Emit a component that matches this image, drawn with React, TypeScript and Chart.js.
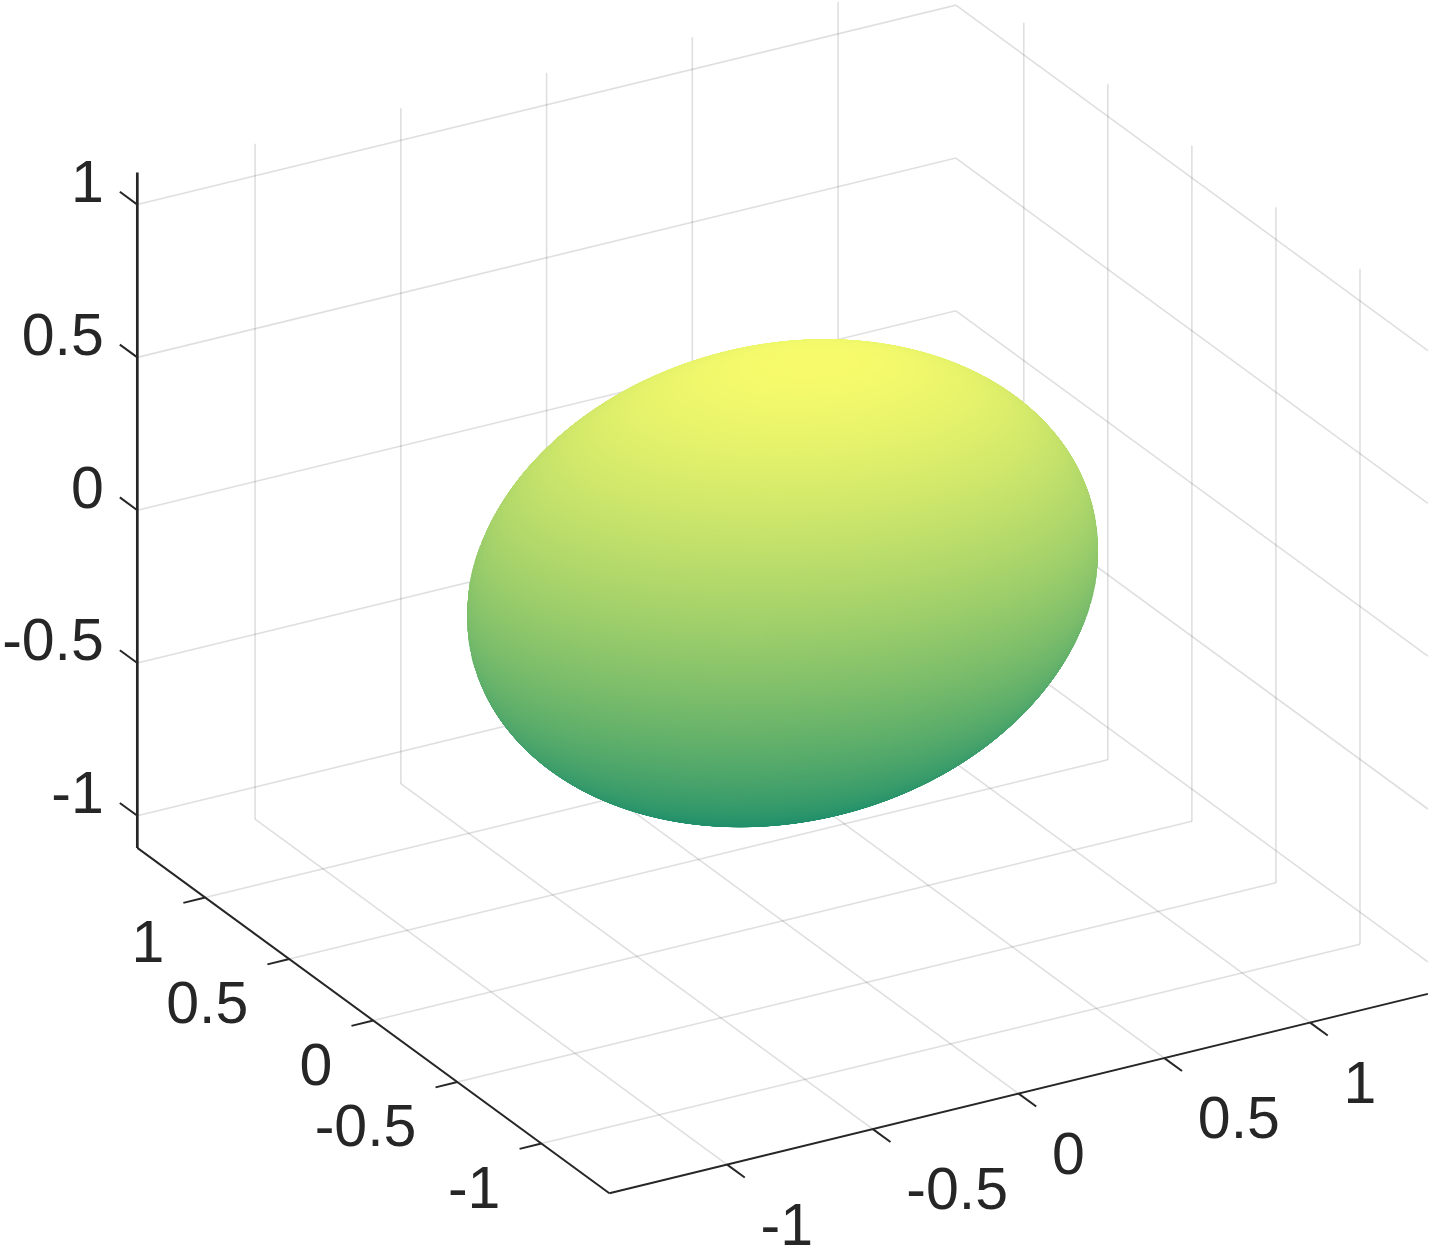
import React, { useEffect, useRef } from "react";
import { Chart, registerables } from "chart.js";

Chart.register(...registerables);

const xTicks = [-1, -0.5, 0, 0.5, 1];
const yTicks = [-1, -0.5, 0, 0.5, 1];
const zTicks = [-1, -0.5, 0, 0.5, 1];
const xTickLabels = ["-1", "-0.5", "0", "0.5", "1"];
const yTickLabels = ["-1", "-0.5", "0", "0.5", "1"];
const zTickLabels = ["-1", "-0.5", "0", "0.5", "1"];
const xLimits = [-1.404, 1.404];
const yLimits = [-1.404, 1.404];
const zLimits = [-1.105, 1.105];
const semiAxes = [1, 0.7071, 0.7071];
// tilt of the ellipsoid along the line of sight, in z per silhouette half-width / half-height
const tilt = [0.06, 0.08];
const colormapLow = [0, 0.5, 0.42];
const colormapHigh = [1, 1, 0.42];
const colorRange = [0.07, 0.97];
const SLICES = 460;
const SEGMENTS = 160;

// orthographic view of the 3D axes onto the page
const ORIGIN = [782.6, 583.2];
const XV = [291.5, -71];
const YV = [-168.1, -123];
const ZV = [0, -305.6];
const SIGHT = [-1.075, -1.864, 1];
const project = (x: number, y: number, z: number) => ({
  x: ORIGIN[0] + x * XV[0] + y * YV[0] + z * ZV[0],
  y: ORIGIN[1] + x * XV[1] + y * YV[1] + z * ZV[1],
});

const GRID = "rgba(38,38,38,0.15)";
const INK = "#262626";

const line = (pts: number[][], color: string, width: number, order: number) => ({
  type: "line" as const,
  data: pts.map((p) => project(p[0], p[1], p[2])),
  borderColor: color,
  borderWidth: width,
  pointRadius: 0,
  fill: false,
  tension: 0,
  order,
  borderCapStyle: "butt" as const,
});

const dot = (p: number[], q: number[]) => p[0] * q[0] + p[1] * q[1] + p[2] * q[2];
const cross = (p: number[], q: number[]) => [
  p[1] * q[2] - p[2] * q[1],
  p[2] * q[0] - p[0] * q[2],
  p[0] * q[1] - p[1] * q[0],
];
const unit = (p: number[]) => {
  const n = Math.sqrt(dot(p, p));
  return p.map((v) => v / n);
};

function ellipsoidSlices() {
  const out: any[] = [];
  const [a, b, c] = semiAxes;
  const D = [a, b, c];
  const rowX = [XV[0], YV[0], ZV[0]];
  const rowY = [-XV[1], -YV[1], -ZV[1]];
  const g = rowX.map((v, k) => (tilt[0] * v) / 315 + (tilt[1] * rowY[k]) / 242.6);
  const W = [g[0] * D[0], g[1] * D[1], (1 + g[2]) * D[2]];
  const w = unit(W);
  const e1 = unit(cross(w, [0, 1, 0]));
  const e2 = cross(w, e1);
  for (let i = 0; i <= SLICES; i++) {
    const f = i / SLICES;
    const s = -1 + 2 * f;
    const r = Math.sqrt(Math.max(0, 1 - s * s));
    const t = colorRange[0] + (colorRange[1] - colorRange[0]) * f;
    const col = colormapLow.map((l, k) => Math.round(255 * (l + (colormapHigh[k] - l) * t)));
    const css = `rgb(${col[0]},${col[1]},${col[2]})`;
    const pts: { x: number; y: number }[] = [];
    for (let n = 0; n <= SEGMENTS; n++) {
      const th = (2 * Math.PI * n) / SEGMENTS;
      const u = [0, 1, 2].map((k) => s * w[k] + r * (Math.cos(th) * e1[k] + Math.sin(th) * e2[k]));
      const p = [u[0] * D[0], u[1] * D[1], u[2] * D[2]];
      const shear = dot(g, p);
      pts.push(project(p[0] + SIGHT[0] * shear, p[1] + SIGHT[1] * shear, p[2] + SIGHT[2] * shear));
    }
    out.push({
      type: "line",
      data: pts,
      borderColor: css,
      backgroundColor: css,
      borderWidth: 1,
      pointRadius: 0,
      tension: 0,
      fill: "shape",
      order: 50000 - i,
    });
  }
  return out;
}

function buildDatasets() {
  const ds: any[] = [];
  const [x0, x1] = xLimits;
  const [y0, y1] = yLimits;
  const [z0, z1] = zLimits;
  const G = 100000;
  xTicks.forEach((t) => {
    ds.push(line([[t, y1, z0], [t, y1, z1]], GRID, 1.6, G));
    ds.push(line([[t, y0, z0], [t, y1, z0]], GRID, 1.6, G));
  });
  yTicks.forEach((t) => {
    ds.push(line([[x1, t, z0], [x1, t, z1]], GRID, 1.6, G));
    ds.push(line([[x0, t, z0], [x1, t, z0]], GRID, 1.6, G));
  });
  zTicks.forEach((t) => {
    ds.push(line([[x0, y1, t], [x1, y1, t], [x1, y0, t]], GRID, 1.6, G));
  });

  ds.push(...ellipsoidSlices());

  // axes and tick marks
  ds.push(line([[x0, y1, z0], [x0, y1, z1]], INK, 2.7, 3));
  ds.push(line([[x0, y1, z0], [x0, y0, z0]], INK, 2, 3));
  ds.push(line([[x0, y0, z0], [x1, y0, z0]], INK, 2, 3));
  zTicks.forEach((t) => {
    ds.push(line([[x0, y1, t], [x0, y1 + 0.104, t]], INK, 2, 2));
  });
  xTicks.forEach((t) => {
    ds.push(line([[t, y0, z0], [t, y0 - 0.105, z0]], INK, 2, 2));
  });
  yTicks.forEach((t) => {
    ds.push(line([[x0, t, z0], [x0 - 0.075, t, z0]], INK, 2, 2));
  });
  return ds;
}

const tickText = {
  id: "tickText",
  afterDatasetsDraw(chart: any) {
    const { ctx, scales } = chart;
    const px = (p: { x: number; y: number }) => [scales.x.getPixelForValue(p.x), scales.y.getPixelForValue(p.y)];
    ctx.save();
    ctx.font = '59px "Liberation Sans", Arial, sans-serif';
    ctx.fillStyle = INK;
    ctx.textBaseline = "alphabetic";
    zTicks.forEach((t, i) => {
      const [u, v] = px(project(xLimits[0], yLimits[1], t));
      ctx.textAlign = "right";
      ctx.fillText(zTickLabels[i], u - 33.5, v - 2.5);
    });
    yTicks.forEach((t, i) => {
      const [u, v] = px(project(xLimits[0], t, zLimits[0]));
      ctx.textAlign = "right";
      ctx.fillText(yTickLabels[i], u - 41, v + 64);
    });
    xTicks.forEach((t, i) => {
      const [u, v] = px(project(t, yLimits[0], zLimits[0]));
      ctx.textAlign = "left";
      ctx.fillText(xTickLabels[i], u + 33.5, v + 80);
    });
    ctx.restore();
  },
};

export default function App() {
  const ref = useRef<HTMLCanvasElement | null>(null);
  useEffect(() => {
    if (!ref.current) return;
    const chart = new Chart(ref.current, {
      type: "line",
      data: { datasets: buildDatasets() },
      options: {
        animation: false,
        responsive: false,
        layout: { padding: 0 },
        plugins: { legend: { display: false }, tooltip: { enabled: false }, title: { display: false } },
        scales: {
          x: { type: "linear", min: 0, max: 1433, display: false },
          y: { type: "linear", min: 0, max: 1247, reverse: true, display: false },
        },
      },
      plugins: [tickText],
    } as any);
    return () => chart.destroy();
  }, []);
  return (
    <div style={{ position: "absolute", left: 0, top: 0, width: 1433, height: 1247, background: "#fff" }}>
      <canvas ref={ref} width={1433} height={1247} style={{ display: "block" }} />
    </div>
  );
}
